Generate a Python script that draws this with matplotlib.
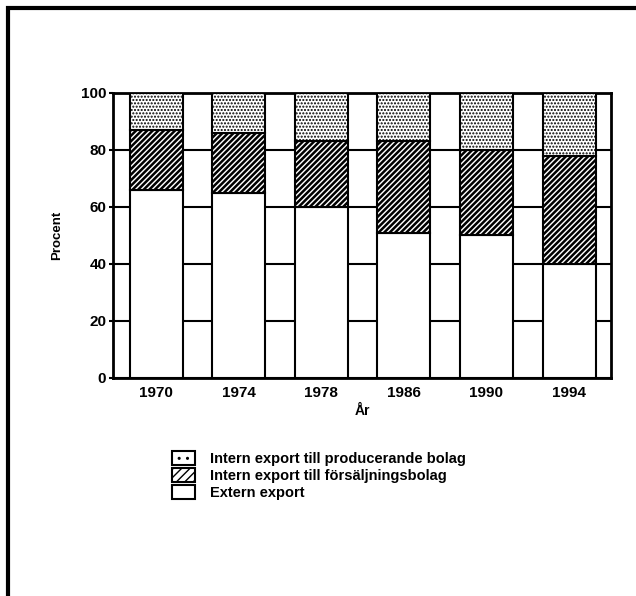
import matplotlib
matplotlib.use("Agg")
import matplotlib.pyplot as plt
from matplotlib.patches import Patch, Rectangle
import numpy as np

# Data (percent of export)
years = ["1970", "1974", "1978", "1986", "1990", "1994"]
extern = [66, 65, 60, 51, 50, 40]
intern_forsaljning = [21, 21, 23, 32, 30, 38]
intern_producerande = [13, 14, 17, 17, 20, 22]
yticks = [0, 20, 40, 60, 80, 100]

plt.rcParams["font.family"] = ["Liberation Sans", "DejaVu Sans"]
plt.rcParams["font.weight"] = "bold"

fig = plt.figure(figsize=(6.36, 5.96), dpi=100)
ax = fig.add_axes([0.178, 0.366, 0.783, 0.478])

x = np.arange(len(years))
w = 0.64
bottom2 = np.array(extern)
bottom3 = bottom2 + np.array(intern_forsaljning)

ax.bar(x, extern, w, color="white", edgecolor="black", linewidth=1.5, zorder=3)
with plt.rc_context({"hatch.linewidth": 1.8}):
    ax.bar(x, intern_forsaljning, w, bottom=bottom2, color="white",
           edgecolor="black", hatch="//////", linewidth=1.5, zorder=3)
with plt.rc_context({"hatch.linewidth": 1.0}):
    ax.bar(x, intern_producerande, w, bottom=bottom3, color="white",
           edgecolor="black", hatch=".....", linewidth=1.5, zorder=3)

ax.set_xlim(-0.52, 5.51)
ax.set_ylim(0, 100)
ax.set_yticks(yticks)
ax.set_xticks(x)
ax.set_xticklabels(years)
ax.tick_params(axis="x", length=0, labelsize=11, pad=6)
ax.tick_params(axis="y", length=3, width=1.5, labelsize=11, pad=2)
for lbl in ax.get_xticklabels() + ax.get_yticklabels():
    lbl.set_fontweight("bold")
for s in ax.spines.values():
    s.set_linewidth(2)

ax.grid(axis="y", color="black", linewidth=1.5, zorder=0)
ax.set_axisbelow(True)

ax.set_ylabel("Procent", fontsize=9.5, fontweight="bold", labelpad=13)
ax.set_xlabel("År", fontsize=10, fontweight="bold", labelpad=3)

handles = [
    Patch(facecolor="white", edgecolor="black", hatch="..", linewidth=1.5),
    Patch(facecolor="white", edgecolor="black", hatch="////", linewidth=1.5),
    Patch(facecolor="white", edgecolor="black", linewidth=1.5),
]
labels = [
    "Intern export till producerande bolag",
    "Intern export till försäljningsbolag",
    "Extern export",
]
fig.legend(handles, labels, loc="upper left", bbox_to_anchor=(0.25, 0.265),
           frameon=False, handlelength=1.6, handleheight=1.1,
           handletextpad=1.0, labelspacing=0.15,
           prop={"weight": "bold", "size": 10.5})

# frame of the page (top and left edges visible)
fig.add_artist(Rectangle((8 / 636, -0.1), 1.2, 1.1 - 8 / 596,
                         transform=fig.transFigure, fill=False,
                         edgecolor="black", linewidth=3, clip_on=False))

fig.savefig("out.png", dpi=100)
